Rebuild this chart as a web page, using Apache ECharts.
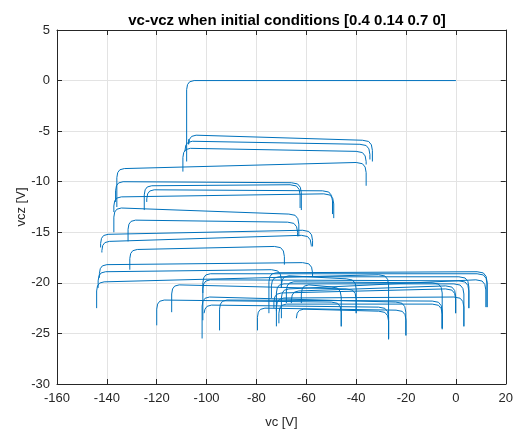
<!DOCTYPE html>
<html><head><meta charset="utf-8">
<script src="https://cdn.jsdelivr.net/npm/echarts@6/dist/echarts.min.js"></script>
<style>html,body{margin:0;padding:0;background:#fff}#c{width:516px;height:434px}</style>
</head><body><div id="c"></div>
<script>
// Each arch of the trajectory: left leg bottom -> top-left corner -> top-right corner -> right leg bottom
const archXLeft   = [-108, -107.2, -108.7, -109.5, -136, -136.5, -125, -137.2, -124, -137.2, -131.5, -142.5, -142, -130.8, -143, -143.5, -144.1, -114, -120, -101.5, -101.5, -101.8, -101, -94.8, -79.6, -72, -70, -73, -71, -62, -74, -70, -75, -68, -72, -64, -66];
const archYLeftBot= [-8.0, -5.8, -7.0, -9.0, -12.5, -12.0, -12.8, -13.0, -12.0, -15.0, -15.9, -16.5, -17.0, -18.7, -19.5, -20.5, -22.5, -22.9, -24.2, -23.7, -21.0, -25.5, -23.0, -24.7, -24.7, -24.3, -23.5, -22.5, -24.0, -22.0, -21.5, -20.5, -23.0, -22.0, -22.8, -23.5, -22.0];
const archYLeftTop= [0.0, -5.4, -6.0, -6.7, -8.7, -10.0, -10.4, -11.5, -10.8, -12.6, -13.8, -15.2, -15.9, -16.7, -18.2, -18.9, -19.9, -20.2, -21.7, -19.1, -19.7, -21.4, -22.2, -21.7, -22.5, -20.1, -20.6, -21.0, -22.1, -20.2, -19.4, -19.3, -19.0, -19.9, -21.5, -22.6, -20.8];
const archXRight  = [0, -33.5, -34.5, -36, -36, -62, -62.5, -49, -49.5, -63, -63.5, -57.5, -58, -68.8, -57.5, -70, -27, -40, -46, 12.5, 5.2, -20.1, -27, -5.5, -20, 3.2, 12.0, -0.1, -5.5, -46, 5.2, -40, 12.5, -5.5, 3.2, -27, -0.1];
const archYRightTop=[0.0, -5.9, -6.3, -7.0, -8.1, -10.1, -10.3, -11.2, -10.9, -13.2, -14.0, -14.8, -15.3, -16.4, -18.0, -18.7, -19.2, -20.6, -21.9, -19.1, -19.8, -21.9, -22.4, -21.8, -22.7, -20.1, -19.7, -20.6, -22.1, -20.4, -19.4, -19.6, -18.9, -20.0, -21.4, -22.8, -20.3];
const archYRightBot=[0.0, -8.0, -7.8, -8.3, -10.4, -12.8, -12.6, -13.6, -13.2, -15.4, -15.4, -16.4, -16.4, -18.2, -19.4, -20.5, -25.5, -23.0, -24.3, -22.4, -22.5, -25.2, -25.6, -24.6, -25.2, -24.3, -22.4, -23.0, -24.5, -24.3, -22.5, -23.0, -22.4, -24.5, -24.3, -25.5, -23.0];

const xMin = -160, xMax = 20, xStep = 20;
const yMin = -30, yMax = 5, yStep = 5;
const titleText = 'vc-vcz when initial conditions [0.4 0.14 0.7 0]';
const xName = 'vc [V]';
const yName = 'vcz [V]';

function archPoints(i) {
  const xl = archXLeft[i], xr = archXRight[i];
  const ylb = archYLeftBot[i], ylt = archYLeftTop[i];
  const yrt = archYRightTop[i], yrb = archYRightBot[i];
  const pts = [];
  if (ylb < ylt) {
    pts.push([xl, ylb], [xl, ylt - 0.9], [xl + 0.35, ylt - 0.4], [xl + 1.2, ylt - 0.12], [xl + 3, ylt]);
  } else {
    pts.push([xl, ylt]);
  }
  if (yrb < yrt) {
    pts.push([xr - 4, yrt], [xr - 1.5, yrt - 0.12], [xr - 0.4, yrt - 0.45], [xr, yrt - 1.0], [xr, yrb]);
  } else {
    pts.push([xr, yrt]);
  }
  return pts;
}

const series = archXLeft.map((_, i) => ({
  type: 'line', data: archPoints(i), showSymbol: false, symbol: 'none',
  lineStyle: { color: '#0072BD', width: 1 }, xAxisIndex: 0, yAxisIndex: 0,
  animation: false, silent: true
}));

const fontFam = 'Liberation Sans, Arial, sans-serif';
const labelStyle = { color: '#262626', fontFamily: fontFam, fontSize: 13 };
const chart = echarts.init(document.getElementById('c'), null, { renderer: 'canvas' });
chart.setOption({
  animation: false,
  backgroundColor: '#ffffff',
  title: { text: titleText, left: 282, textAlign: 'center', top: 8,
    textStyle: { fontFamily: fontFam, fontSize: 15, fontWeight: 'bold', color: '#000' } },
  grid: { left: 57, right: 9, top: 30, bottom: 50, containLabel: false },
  xAxis: [
    { type: 'value', min: xMin, max: xMax, interval: xStep, position: 'bottom',
      name: xName, nameLocation: 'middle', nameGap: 32, nameTextStyle: labelStyle,
      axisLine: { show: true, onZero: false, lineStyle: { color: '#262626', width: 1 } },
      axisTick: { show: true, inside: true, length: 5, lineStyle: { color: '#262626' } },
      axisLabel: Object.assign({ margin: 8 }, labelStyle),
      splitLine: { show: true, lineStyle: { color: '#e3e3e3', width: 1 } } },
    { type: 'value', min: xMin, max: xMax, interval: xStep, position: 'top',
      axisLine: { show: true, onZero: false, lineStyle: { color: '#262626', width: 1 } },
      axisTick: { show: true, inside: true, length: 5, lineStyle: { color: '#262626' } },
      axisLabel: { show: false }, splitLine: { show: false } }
  ],
  yAxis: [
    { type: 'value', min: yMin, max: yMax, interval: yStep, position: 'left',
      name: yName, nameLocation: 'middle', nameGap: 29, nameMoveOverlap: false, nameRotate: 90, nameTextStyle: labelStyle,
      axisLine: { show: true, onZero: false, lineStyle: { color: '#262626', width: 1 } },
      axisTick: { show: true, inside: true, length: 5, lineStyle: { color: '#262626' } },
      axisLabel: Object.assign({ margin: 7 }, labelStyle),
      splitLine: { show: true, lineStyle: { color: '#e3e3e3', width: 1 } } },
    { type: 'value', min: yMin, max: yMax, interval: yStep, position: 'right',
      axisLine: { show: true, onZero: false, lineStyle: { color: '#262626', width: 1 } },
      axisTick: { show: true, inside: true, length: 5, lineStyle: { color: '#262626' } },
      axisLabel: { show: false }, splitLine: { show: false } }
  ],
  series: series
});
</script>
</body></html>
